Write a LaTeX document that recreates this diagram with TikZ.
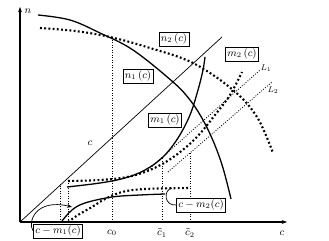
\documentclass[tikz,border=0pt]{standalone}
\usepackage{amsmath}
\usetikzlibrary{positioning,arrows.meta}
\tikzset{
  axis/.style={-{Stealth[length=1.6mm, width=1.2mm]}, line width=0.9pt},
  curve/.style={line width=1.1pt},
  dcurve/.style={line width=1.8pt, dash pattern=on 1.6pt off 2pt},
  guide/.style={line width=0.75pt, dash pattern=on 0.75pt off 1.4pt},
  lbox/.style={draw, line width=0.6pt, inner sep=1.5pt, font=\small, fill=white},
  lbl/.style={font=\small, inner sep=1pt}
}

\begin{document}
\begin{tikzpicture}[x=0.3mm, y=-0.3mm]
        \useasboundingbox (0,0) rectangle (329,241);
        % axes
        \coordinate (O) at (20,222);
        \coordinate (ytop) at (20,7);
        \coordinate (xend) at (287,222);
        \draw[axis] (O) -- (ytop);
        \draw[axis] (O) -- (xend);
        \node[lbl] (ny) at (28,11) {$n$};
        \node[lbl] (cx) at (282,233) {$c$};
        % 45 degree line
        \coordinate (ctop) at (222,37);
        \draw[line width=0.6pt] (O) -- (ctop);
        \node[lbl] (cl) at (90,143) {$c$};
        % guide lines
        \draw[guide] (60,222) -- (60,184);
        \draw[guide] (68,222) -- (68,181);
        \draw[guide] (112,222) -- (112,37);
        \draw[guide] (162,222) -- (162,157);
        \draw[guide] (190,222) -- (190,152);
        \draw[guide] (148,170) -- (260,70);
        \draw[guide] (168,172) -- (272,82);
        \node[lbl, font=\scriptsize] (Lone) at (266,68) {$L_1$};
        \node[lbl, font=\scriptsize] (Ltwo) at (273,90) {$L_2$};
        % n curves
        \draw[curve] plot[smooth, tension=0.6] coordinates {(38,15) (70,20) (100,33) (133,50) (173,82) (190,100) (203,120) (214,143) (223,168) (231,199)};
        \draw[dcurve] plot[smooth, tension=0.6] coordinates {(40,28) (75,31) (110,37) (150,48) (193,63) (233,90) (257,117) (273,153)};
        % m curves
        \draw[curve] plot[smooth, tension=0.6] coordinates {(67,187) (100,183) (125,178) (145,170) (163,157) (178,138) (190,115) (198,90) (203,70) (205,57)};
        \draw[dcurve] plot[smooth, tension=0.6] coordinates {(68,181) (100,180) (127,177) (150,170) (172,158) (195,139) (215,115) (230,95) (242,72)};
        % c - m curves
        \draw[curve] plot[smooth, tension=0.6] coordinates {(62,221) (72,210) (85,203) (112,197) (140,195) (165,194)};
        \draw[dcurve] plot[smooth, tension=0.6] coordinates {(68,222) (78,215) (92,207) (105,199) (122,192) (145,189) (190,188)};
        % labels
        \node[lbox] (none) at (138,76) {$n_1\,(c)$};
        \node[lbox] (ntwo) at (174,39) {$n_2\,(c)$};
        \node[lbox] (mone) at (165,120) {$m_1\,(c)$};
        \node[lbox] (mtwo) at (242,54) {$m_2\,(c)$};
        \node[lbox] (cmone) at (58,231) {$c-m_1(c)$};
        \node[lbox] (cmtwo) at (201,205) {$c-m_2(c)$};
        \draw[-{Stealth[length=1.5mm]}, line width=0.6pt] (cmone.west) .. controls (27,222) and (36,198) .. (72,207);
        \draw[line width=0.6pt] (cmtwo.west) .. controls (164,206) and (163,190) .. (172,188);
        % ticks
        \node[lbl] (czero) at (112,233) {$c_0$};
        \node[lbl] (ctone) at (162,233) {$\tilde{c}_1$};
        \node[lbl] (cttwo) at (190,233) {$\tilde{c}_2$};
      \end{tikzpicture}
\end{document}
